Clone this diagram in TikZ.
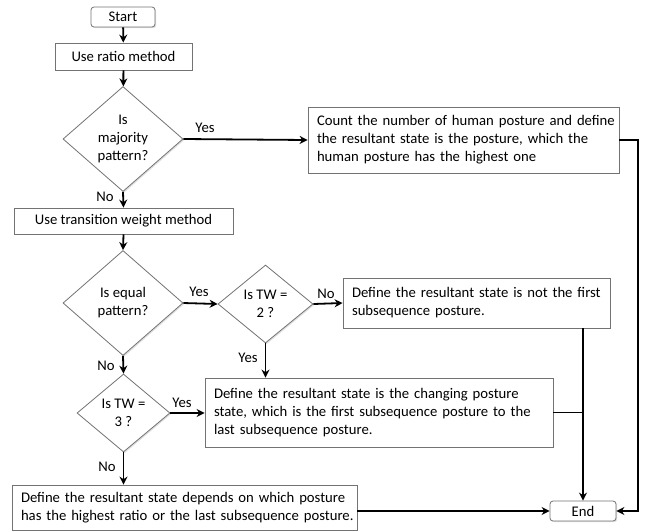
\documentclass[tikz,border=0pt]{standalone}
\usepackage{fontspec}
\setmainfont{Carlito}
\usetikzlibrary{shapes.geometric,arrows.meta,shadows}
\begin{document}
\begin{tikzpicture}[x=1pt,y=-1pt,
  font=\fontsize{14.7}{18}\selectfont,
  box/.style={draw=black!55,line width=0.8pt,fill=white,inner sep=0pt,
    drop shadow={shadow xshift=1.2pt,shadow yshift=-1.2pt,opacity=0.25}},
  tbox/.style={box,align=left,inner xsep=9pt},
  term/.style={box,rounded corners=3pt},
  dec/.style={draw=black!55,line width=0.8pt,fill=white,diamond,aspect=1,inner sep=0pt,align=center,
    drop shadow={shadow xshift=1.2pt,shadow yshift=-1.2pt,opacity=0.25}},
  conn/.style={line width=1.8pt,-{Stealth[length=8pt,width=8pt]}},
  line/.style={line width=1.8pt},
  lab/.style={inner sep=0pt}]
\useasboundingbox (0,0) rectangle (655,531);
\node[term,minimum width=64pt,minimum height=20pt] (start) at (123,17) {Start};
\node[box,minimum width=137pt,minimum height=27pt] (ratio) at (123.5,56.5) {Use ratio method};
\node[dec,minimum width=120pt,minimum height=105pt] (d1) at (123,139) {Is\\majority\\pattern?};
\node[tbox,text width=293pt,minimum height=66pt] (count) at (463.5,140) {\mbox{Count the number of human posture and define}\\\mbox{the resultant state is the posture, which the}\\\mbox{human posture has the highest one}};
\node[box,minimum width=219pt,minimum height=26pt] (tw) at (123.5,221) {Use transition weight method};
\node[dec,minimum width=120pt,minimum height=105pt] (d2) at (123,303) {Is equal\\pattern?};
\node[dec,minimum width=95pt,minimum height=78pt] (d3) at (265.5,304) {Is TW =\\2 ?};
\node[tbox,text width=249pt,minimum height=50pt] (notfirst) at (476.5,303) {\mbox{Define the resultant state is not the first}\\\mbox{subsequence posture.}};
\node[tbox,text width=330pt,minimum height=69pt] (changing) at (379,412.5) {\mbox{Define the resultant state is the changing posture}\\\mbox{state, which is the first subsequence posture to the}\\\mbox{last subsequence posture.}};
\node[dec,minimum width=93pt,minimum height=78pt] (d4) at (123.5,413) {Is TW =\\3 ?};
\node[tbox,text width=327pt,minimum height=45pt] (last) at (184.5,507.5) {\mbox{Define the resultant state depends on which posture}\\\mbox{has the highest ratio or the last subsequence posture.}};
\node[term,minimum width=66pt,minimum height=20pt] (end) at (583,511) {End};
\coordinate (cr) at (638,140);
% connectors
\draw[conn] (start) -- (ratio);
\draw[conn] (ratio) -- (d1);
\draw[conn] (d1.east) -- (count.west);
\draw[conn] (d1.south) -- (tw.north);
\draw[conn] (tw.south) -- (d2.north);
\draw[conn] (d2.east) -- (d3.west);
\draw[conn] (d3.east) -- (notfirst.west);
\draw[conn] (d3.south) -- (d3.south |- changing.north);
\draw[conn] (d2.south) -- (d4.north);
\draw[conn] (d4.east) -- (d4.east -| changing.west);
\draw[conn] (d4.south) -- (d4.south |- last.north);
\draw[conn] (end.west -| last.east) -- (end.west);
\draw[conn] (notfirst.south -| end.north) -- (end.north);
\draw[line] (changing.east) -- (changing.east -| end.north);
\draw[conn] (count.east) -- (cr) |- (end.east);
% labels
\node[lab] (l1) at (205,128) {Yes};
\node[lab] (l2) at (105,197) {No};
\node[lab] (l3) at (199,292) {Yes};
\node[lab] (l4) at (326,294) {No};
\node[lab] (l5) at (248,358) {Yes};
\node[lab] (l6) at (106,366) {No};
\node[lab] (l7) at (182,403) {Yes};
\node[lab] (l8) at (107,467) {No};
\end{tikzpicture}
\end{document}
